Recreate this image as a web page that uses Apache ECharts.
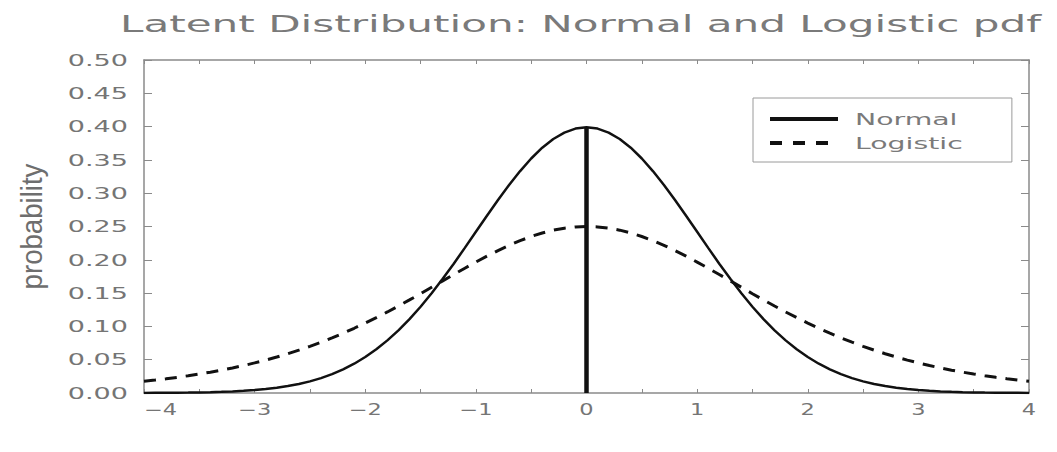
<!DOCTYPE html>
<html>
<head>
<meta charset="utf-8">
<script src="https://cdn.jsdelivr.net/npm/echarts@6/dist/echarts.min.js"></script>
<style>
html,body{margin:0;padding:0;background:#fff;}
#chart{width:1057px;height:452px;}
</style>
</head>
<body>
<div id="chart"></div>
<script>
const titleText = 'Latent Distribution: Normal and Logistic pdf';
const yAxisName = 'probability';
const seriesNames = ['Normal', 'Logistic'];

const xs = [-4.0,-3.9,-3.8,-3.7,-3.6,-3.5,-3.4,-3.3,-3.2,-3.1,-3.0,-2.9,-2.8,-2.7,-2.6,-2.5,-2.4,-2.3,-2.2,-2.1,
  -2.0,-1.9,-1.8,-1.7,-1.6,-1.5,-1.4,-1.3,-1.2,-1.1,-1.0,-0.9,-0.8,-0.7,-0.6,-0.5,-0.4,-0.3,-0.2,-0.1,
  0.0,0.1,0.2,0.3,0.4,0.5,0.6,0.7,0.8,0.9,1.0,1.1,1.2,1.3,1.4,1.5,1.6,1.7,1.8,1.9,
  2.0,2.1,2.2,2.3,2.4,2.5,2.6,2.7,2.8,2.9,3.0,3.1,3.2,3.3,3.4,3.5,3.6,3.7,3.8,3.9,4.0];

const normalPdf = [0.0001,0.0002,0.0003,0.0004,0.0006,0.0009,0.0012,0.0017,0.0024,0.0033,0.0044,0.0060,0.0079,0.0104,0.0136,0.0175,0.0224,0.0283,0.0355,0.0440,
  0.0540,0.0656,0.0790,0.0940,0.1109,0.1295,0.1497,0.1714,0.1942,0.2179,0.2420,0.2661,0.2897,0.3123,0.3332,0.3521,0.3683,0.3814,0.3910,0.3970,
  0.3989,0.3970,0.3910,0.3814,0.3683,0.3521,0.3332,0.3123,0.2897,0.2661,0.2420,0.2179,0.1942,0.1714,0.1497,0.1295,0.1109,0.0940,0.0790,0.0656,
  0.0540,0.0440,0.0355,0.0283,0.0224,0.0175,0.0136,0.0104,0.0079,0.0060,0.0044,0.0033,0.0024,0.0017,0.0012,0.0009,0.0006,0.0004,0.0003,0.0002,0.0001];

const logisticPdf = [0.0177,0.0194,0.0214,0.0235,0.0259,0.0285,0.0313,0.0343,0.0376,0.0412,0.0452,0.0494,0.0540,0.0590,0.0644,0.0701,0.0763,0.0828,0.0898,0.0972,
  0.1050,0.1132,0.1217,0.1306,0.1398,0.1491,0.1587,0.1683,0.1779,0.1874,0.1966,0.2055,0.2139,0.2217,0.2288,0.2350,0.2403,0.2445,0.2475,0.2494,
  0.2500,0.2494,0.2475,0.2445,0.2403,0.2350,0.2288,0.2217,0.2139,0.2055,0.1966,0.1874,0.1779,0.1683,0.1587,0.1491,0.1398,0.1306,0.1217,0.1132,
  0.1050,0.0972,0.0898,0.0828,0.0763,0.0701,0.0644,0.0590,0.0540,0.0494,0.0452,0.0412,0.0376,0.0343,0.0313,0.0285,0.0259,0.0235,0.0214,0.0194,0.0177];

// vertical line at the mean (x, y endpoints)
const meanLineX = [0, 0];
const meanLineY = [0, 0.3989];

const xTicks = [-4,-3,-2,-1,0,1,2,3,4];
const yTicks = [0.00,0.05,0.10,0.15,0.20,0.25,0.30,0.35,0.40,0.45,0.50];

const TXT = '#757575';
const AX = '#8a8a8a';
const FONT = '"DejaVu Sans", sans-serif';

const chart = echarts.init(document.getElementById('chart'), null, {renderer: 'svg', width: 1057, height: 452});

const pairs = (a, b) => a.map((v, i) => [v, b[i]]);

const axisLineStyle = {show: true, onZero: false, lineStyle: {color: AX, width: 1.5}};

const option = {
  animation: false,
  backgroundColor: '#ffffff',
  title: {
    text: titleText,
    left: 120, top: 13, padding: 0,
    textStyle: {fontFamily: FONT, fontSize: 23, fontWeight: 'normal', color: '#7a7a7a'}
  },
  legend: {
    data: [
      {name: seriesNames[0], lineStyle: {width: 4, type: 'solid', color: '#111'}},
      {name: seriesNames[1], lineStyle: {width: 4, type: [12, 11], color: '#111'}}
    ],
    orient: 'vertical',
    left: 753, top: 98,
    padding: [13, 96, 11, 15],
    itemWidth: 68, itemHeight: 14, itemGap: 8,
    borderColor: '#9a9a9a', borderWidth: 1, borderRadius: 0,
    backgroundColor: '#fff',
    selectedMode: false,
    itemStyle: {opacity: 0, borderWidth: 0},
    textStyle: {fontFamily: FONT, fontSize: 16, color: '#7a7a7a', padding: [0, 0, 0, 12]}
  },
  grid: {left: 144, right: 28, top: 60, bottom: 59, containLabel: false, outerBoundsMode: 'none'},
  xAxis: [{
    type: 'value', min: xTicks[0], max: xTicks[xTicks.length - 1], interval: 1,
    position: 'bottom',
    axisLine: axisLineStyle, splitLine: {show: false},
    axisTick: {show: true, inside: true, length: 4, lineStyle: {color: AX, width: 1}},
    minorTick: {show: true, splitNumber: 2, length: 4, lineStyle: {color: AX, width: 1}},
    axisLabel: {
      show: true, margin: 9, color: TXT, fontFamily: FONT, fontSize: 15,
      alignMinLabel: 'left',
      formatter: v => (v < 0 ? '\u2212' : '') + Math.abs(v)
    }
  }, {
    type: 'value', min: xTicks[0], max: xTicks[xTicks.length - 1], interval: 1,
    position: 'top',
    axisLine: axisLineStyle, splitLine: {show: false},
    axisTick: {show: true, inside: true, length: 4, lineStyle: {color: AX, width: 1}},
    minorTick: {show: true, splitNumber: 2, length: 4, lineStyle: {color: AX, width: 1}},
    axisLabel: {show: false}
  }],
  yAxis: [{
    type: 'value', min: yTicks[0], max: yTicks[yTicks.length - 1], interval: 0.05,
    position: 'left',
    name: yAxisName, nameLocation: 'middle', nameGap: 97,
    nameTextStyle: {fontFamily: '"Liberation Sans", sans-serif', fontSize: 30, color: '#6e6e6e'},
    axisLine: axisLineStyle, splitLine: {show: false},
    axisTick: {show: true, inside: true, length: 8, lineStyle: {color: AX, width: 1}},
    axisLabel: {show: true, margin: 16, color: TXT, fontFamily: FONT, fontSize: 16,
      formatter: v => v.toFixed(2)}
  }, {
    type: 'value', min: yTicks[0], max: yTicks[yTicks.length - 1], interval: 0.05,
    position: 'right',
    axisLine: axisLineStyle, splitLine: {show: false},
    axisTick: {show: true, inside: true, length: 8, lineStyle: {color: AX, width: 1}},
    axisLabel: {show: false}
  }],
  series: [{
    name: seriesNames[0], type: 'line', xAxisIndex: 0, yAxisIndex: 0,
    data: pairs(xs, normalPdf), showSymbol: false, symbol: 'none',
    lineStyle: {color: '#111', width: 2.5, type: 'solid'},
    itemStyle: {color: '#111'}, z: 3
  }, {
    name: seriesNames[1], type: 'line', xAxisIndex: 0, yAxisIndex: 0,
    data: pairs(xs, logisticPdf), showSymbol: false, symbol: 'none',
    lineStyle: {color: '#111', width: 3, type: [12, 9]},
    itemStyle: {color: '#111'}, z: 3
  }, {
    name: 'mean', type: 'line', xAxisIndex: 0, yAxisIndex: 0,
    data: pairs(meanLineX, meanLineY), showSymbol: false, symbol: 'none',
    lineStyle: {color: '#111', width: 4.5}, z: 4
  }]
};

chart.setOption(option);

// Widen the text horizontally to match the extended typeface of the original.
function stretchText() {
  const svg = chart.getDom().querySelector('svg');
  if (!svg) return;
  svg.querySelectorAll('text').forEach(t => {
    const s = t.textContent;
    let k = null;
    if (s === titleText) k = 1.83;
    else if (s === yAxisName) k = 0.92;
    else if (seriesNames.includes(s)) k = 1.77;
    else if (/^\d\.\d\d$/.test(s)) k = 1.69;
    else if (/^[\u2212-]?\d$/.test(s)) k = 1.5;
    if (k == null) return;
    if (!t.hasAttribute('data-tr')) t.setAttribute('data-tr', t.getAttribute('transform') || '');
    const lx = parseFloat(t.getAttribute('x') || 0);
    t.setAttribute('transform', (t.getAttribute('data-tr') + ' translate(' + lx + ' 0) scale(' + k + ' 1) translate(' + (-lx) + ' 0)').trim());
  });
}
stretchText();
chart.on('finished', stretchText);
setTimeout(stretchText, 0);
</script>
</body>
</html>
